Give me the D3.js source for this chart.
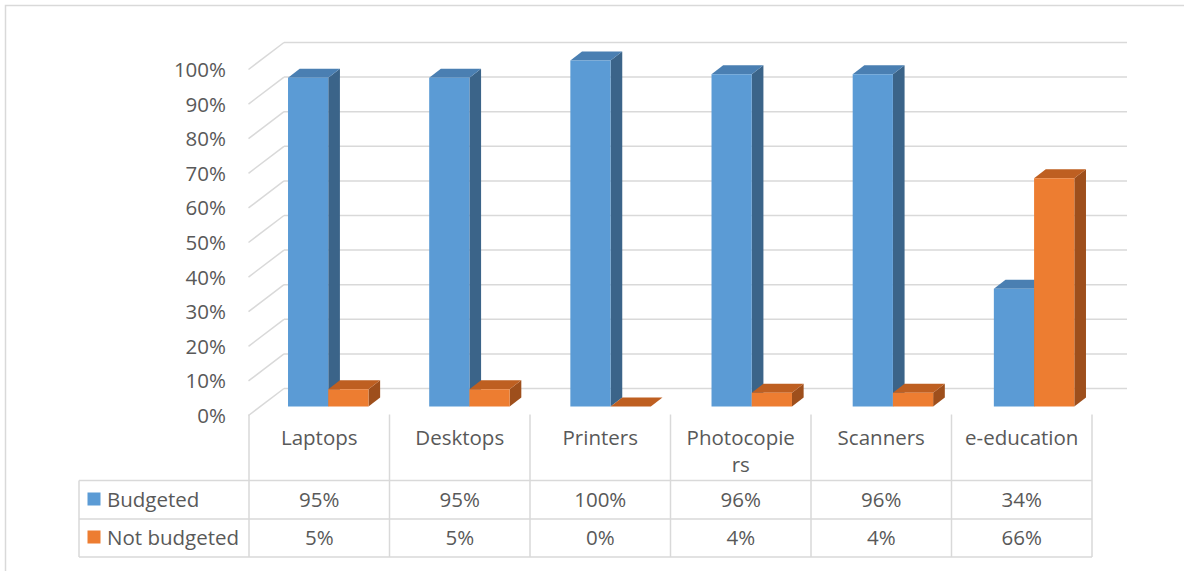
<!DOCTYPE html>
<html>
<head>
<meta charset="utf-8">
<script src="https://cdn.jsdelivr.net/npm/d3@7"></script>
<style>
  html, body { margin: 0; padding: 0; background: #ffffff; }
  svg { display: block; }
  text { font-family: "Open Sans", sans-serif; fill: #595959; }
</style>
</head>
<body>
<svg id="chart" width="1184" height="571"></svg>
<script>
// ---- data ----
const categories = ["Laptops", "Desktops", "Printers", "Photocopiers", "Scanners", "e-education"];
const seriesNames = ["Budgeted", "Not budgeted"];
const budgeted = [0.95, 0.95, 1.00, 0.96, 0.96, 0.34];
const notBudgeted = [0.05, 0.05, 0.00, 0.04, 0.04, 0.66];
const budgetedLabels = ["95%", "95%", "100%", "96%", "96%", "34%"];
const notBudgetedLabels = ["5%", "5%", "0%", "4%", "4%", "66%"];
const yTicks = [0, 0.1, 0.2, 0.3, 0.4, 0.5, 0.6, 0.7, 0.8, 0.9, 1.0];
const seriesColors = [
  { front: "#5B9BD5", top: "#4A7FB2", side: "#3B6489" },
  { front: "#ED7D31", top: "#BE5F21", side: "#9E4F1C" }
];

const svg = d3.select("#chart");
const W = 1184, H = 571;
const grid = "#d9d9d9";
const FS = 20.5;

// outer border (only top/left visible)
svg.append("rect").attr("x", 5.5).attr("y", 5.5).attr("width", W + 10).attr("height", H + 10)
  .attr("fill", "none").attr("stroke", grid).attr("stroke-width", 1.5);

// 3D geometry
const frontLeft = 249, frontRight = 1092;
const DX = 35, DY = 27;            // depth vector (front -> back)
const yFront = d3.scaleLinear().domain([0, 1]).range([415.5, 69.5]);
const x0 = d3.scaleBand().domain(categories).range([frontLeft, frontRight])
  .paddingInner(0.43).paddingOuter(0.215);
const xBars = d3.scaleBand().domain(categories).range([frontLeft - 3, frontRight + 1])
  .paddingInner(0.43).paddingOuter(0.215);
const x1 = d3.scaleBand().domain(seriesNames).range([0, xBars.bandwidth()]);
const t0 = 1 / 3, t1 = 2 / 3;      // bar depth span

const P = (x, v, t) => [x + DX * t, yFront(v) - DY * t];

// gridlines: back wall + left side wall
const gG = svg.append("g");
yTicks.forEach(v => {
  const a = P(frontLeft, v, 1), b = P(frontRight, v, 1), c = P(frontLeft - 0.5, v, 0);
  gG.append("line").attr("x1", a[0]).attr("y1", a[1]).attr("x2", b[0]).attr("y2", b[1])
    .attr("stroke", grid).attr("stroke-width", 1.5);
  gG.append("line").attr("x1", c[0]).attr("y1", c[1]).attr("x2", a[0]).attr("y2", a[1])
    .attr("stroke", grid).attr("stroke-width", 1.5);
});

// y labels
svg.append("g").selectAll("text").data(yTicks).join("text")
  .attr("x", 226).attr("y", d => yFront(d) + 7.5)
  .attr("text-anchor", "end").attr("font-size", FS)
  .text(d => d3.format(".0%")(d));

// bars
const seriesVals = [budgeted, notBudgeted];
const bG = svg.append("g");
const poly = pts => pts.map(p => p.join(",")).join(" ");
categories.forEach((cat, i) => {
  seriesNames.forEach((s, j) => {
    const v = seriesVals[j][i];
    const xl = xBars(cat) + x1(s), xr = xl + x1.bandwidth();
    const col = seriesColors[j];
    const fbl = P(xl, 0, t0), fbr = P(xr, 0, t0), ftl = P(xl, v, t0), ftr = P(xr, v, t0);
    const bbr = P(xr, 0, t1), btl = P(xl, v, t1), btr = P(xr, v, t1);
    bG.append("polygon").attr("points", poly([fbr, ftr, btr, bbr])).attr("fill", col.side);
    bG.append("polygon").attr("points", poly([ftl, ftr, btr, btl])).attr("fill", col.top);
    bG.append("polygon").attr("points", poly([fbl, fbr, ftr, ftl])).attr("fill", col.front);
  });
});

// data table
const rowTop = 480.5, rowMid = 519, rowBot = 557, tableTop = 414.5;
const legendLeft = 79;
const tG = svg.append("g");
const cols = categories.map(c => x0(c) - x0.step() * x0.paddingOuter());
const colEdges = cols.concat([frontRight]);
colEdges.forEach(x => {
  tG.append("line").attr("x1", x).attr("x2", x).attr("y1", tableTop).attr("y2", rowBot)
    .attr("stroke", grid).attr("stroke-width", 1.5);
});
[rowTop, rowMid, rowBot].forEach(y => {
  tG.append("line").attr("x1", legendLeft).attr("x2", frontRight).attr("y1", y).attr("y2", y)
    .attr("stroke", grid).attr("stroke-width", 1.5);
});
tG.append("line").attr("x1", legendLeft).attr("x2", legendLeft).attr("y1", rowTop).attr("y2", rowBot)
  .attr("stroke", grid).attr("stroke-width", 1.5);

// category labels with wrapping
const maxW = 114;
categories.forEach((cat, i) => {
  const cx = cols[i] + x0.step() / 2;
  const t = tG.append("text").attr("x", cx).attr("y", 445).attr("text-anchor", "middle").attr("font-size", FS);
  const ts = t.append("tspan").attr("x", cx).text(cat);
  if (ts.node().getComputedTextLength() > maxW) {
    let k = cat.length;
    while (k > 1) {
      ts.text(cat.slice(0, k));
      if (ts.node().getComputedTextLength() <= maxW) break;
      k--;
    }
    t.append("tspan").attr("x", cx).attr("dy", 27).text(cat.slice(k));
  }
});

// values rows
const rowLabels = [budgetedLabels, notBudgetedLabels];
const rowBase = [507, 545];
rowLabels.forEach((labs, r) => {
  labs.forEach((lab, i) => {
    tG.append("text").attr("x", cols[i] + x0.step() / 2).attr("y", rowBase[r])
      .attr("text-anchor", "middle").attr("font-size", FS).text(lab);
  });
  tG.append("rect").attr("x", 87.5).attr("y", rowBase[r] - 14.5).attr("width", 13).attr("height", 13)
    .attr("fill", seriesColors[r].front);
  tG.append("text").attr("x", 107).attr("y", rowBase[r]).attr("font-size", FS).text(seriesNames[r]);
});
</script>
</body>
</html>
